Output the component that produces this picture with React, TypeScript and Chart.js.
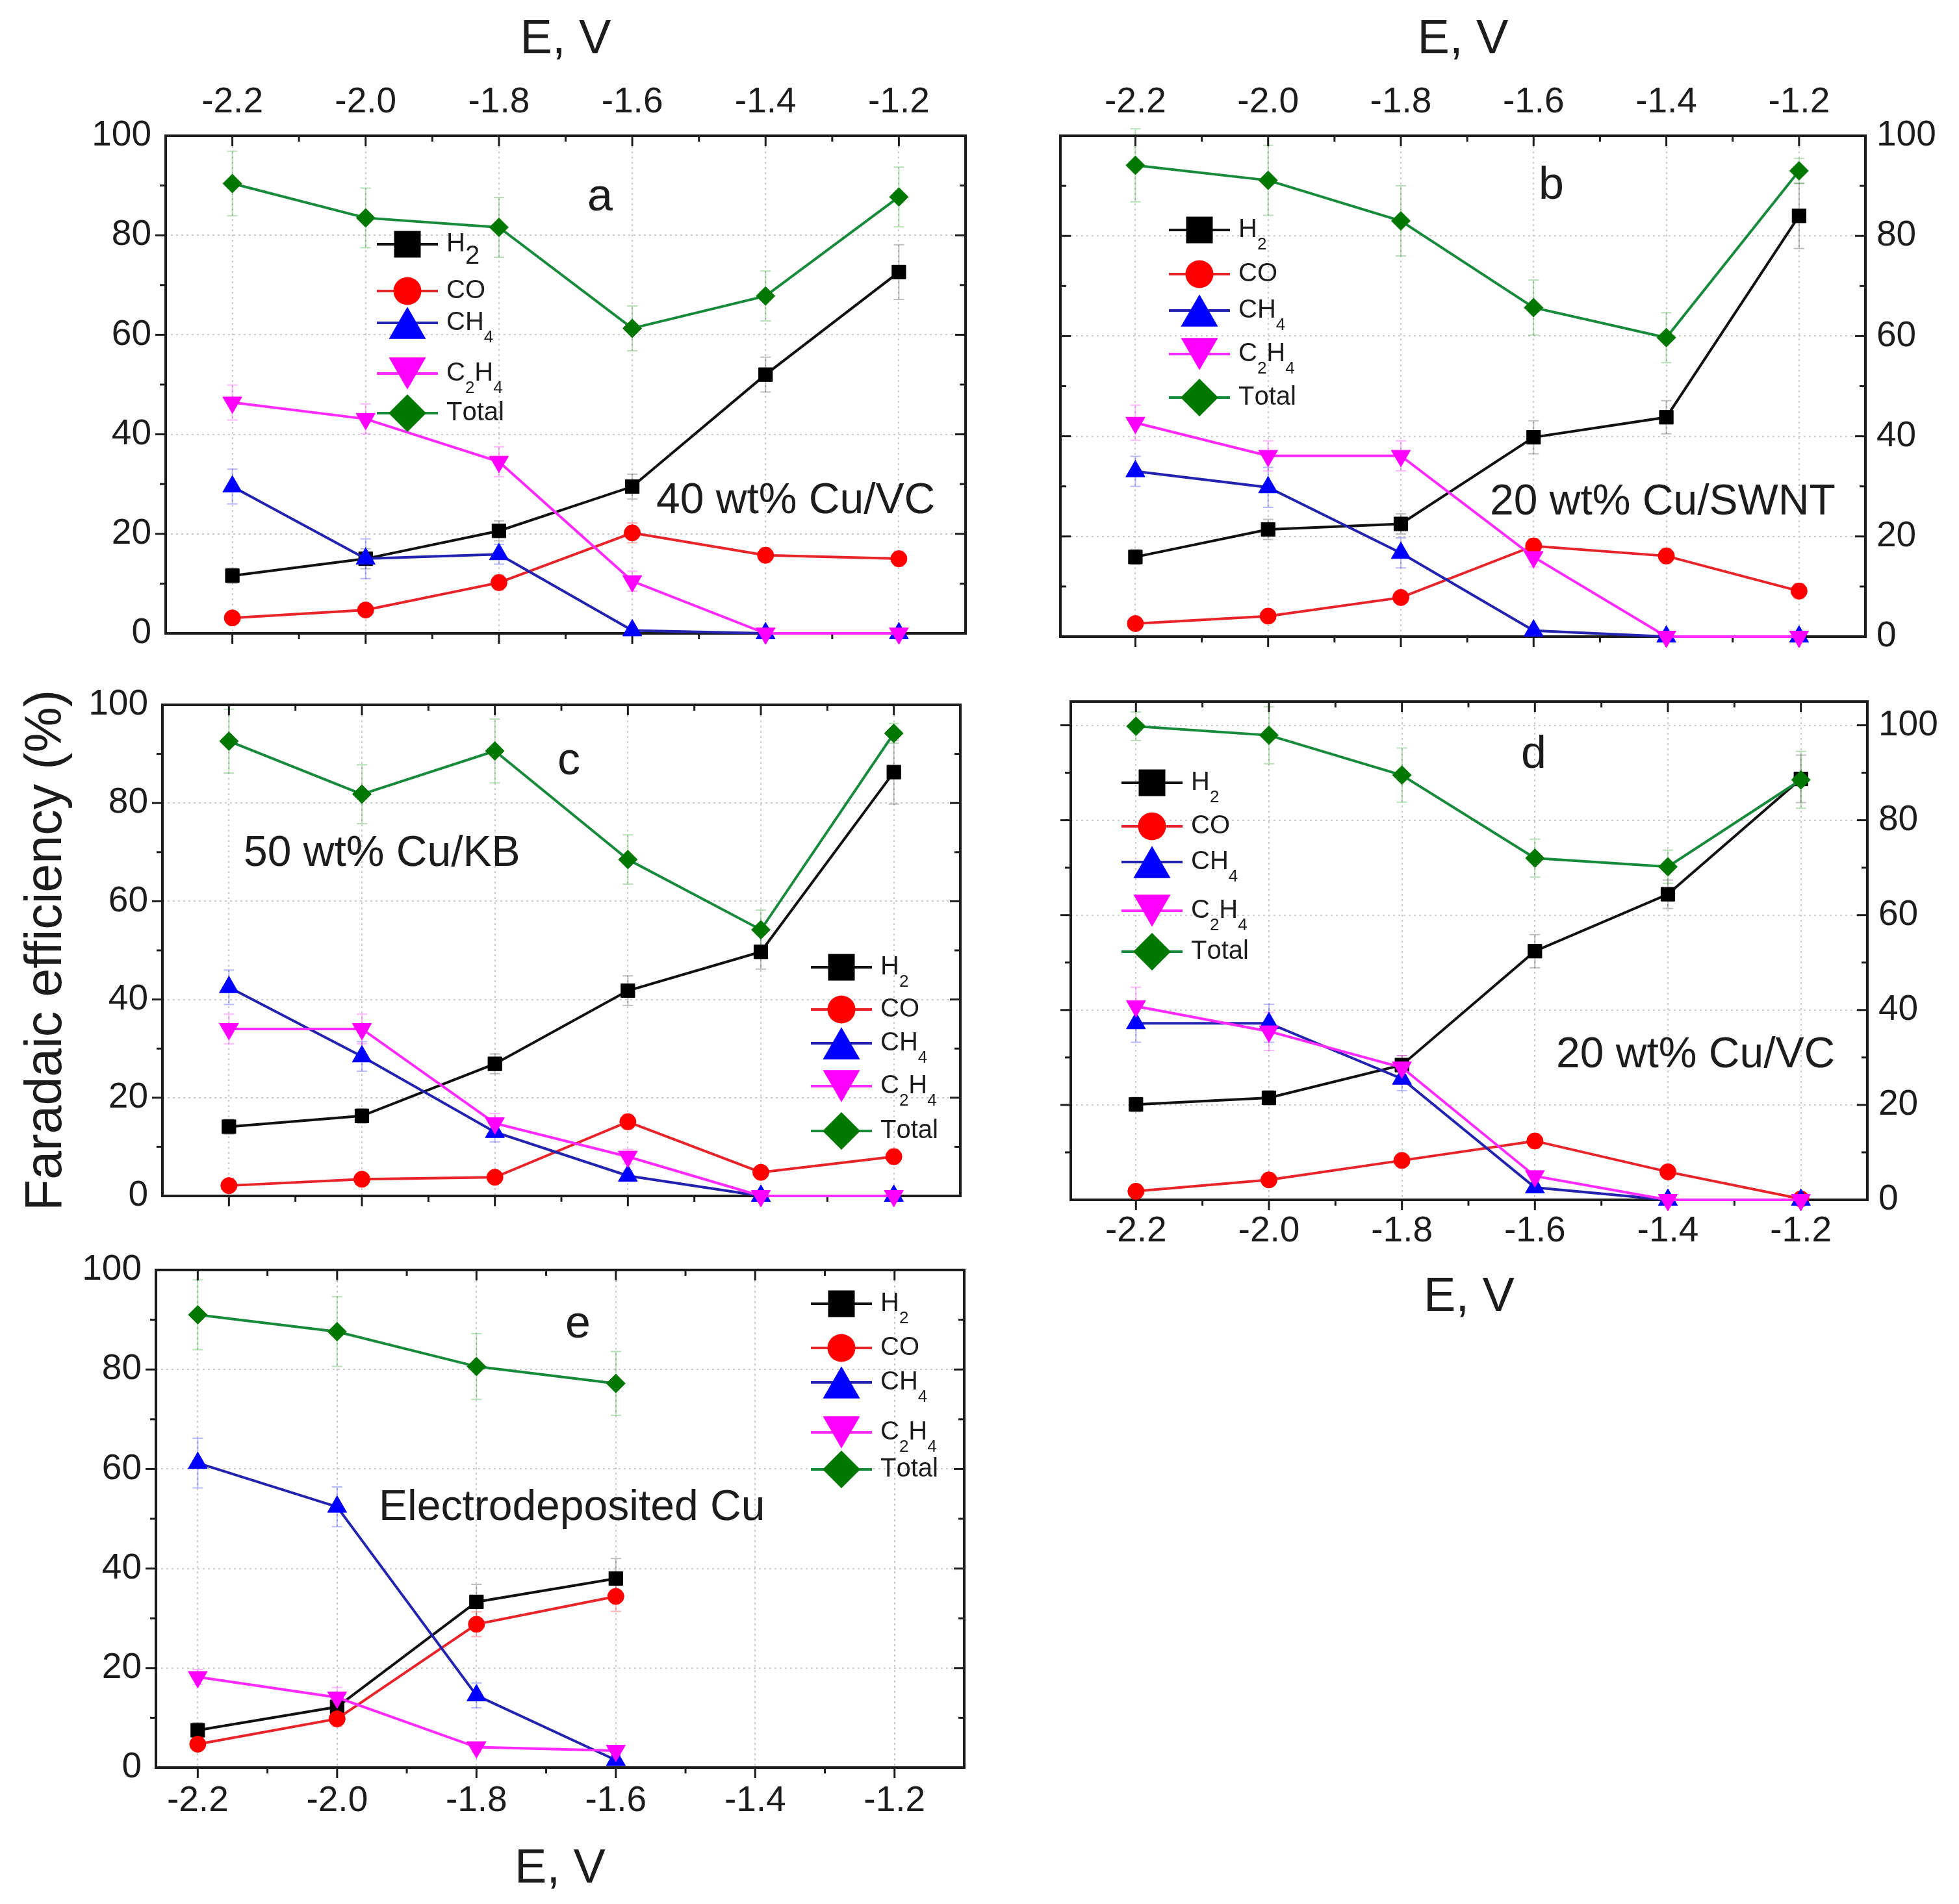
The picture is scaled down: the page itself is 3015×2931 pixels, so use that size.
import { useEffect, useRef } from 'react';
import { Chart, registerables } from 'chart.js';

Chart.register(...registerables);

const FONT = '"Liberation Sans", Arial, Helvetica, sans-serif';
const INK = '#1c1c1c';

// electrode potential, V
const potentials = [-2.2, -2.0, -1.8, -1.6, -1.4, -1.2];
const potentialsE = [-2.2, -2.0, -1.8, -1.6];
const xTickValues = [-2.2, -2.0, -1.8, -1.6, -1.4, -1.2];
const yTickValues = [0, 20, 40, 60, 80, 100];

// series order: H2, CO, CH4, C2H4, Total
const legendLabels = ['H_2', 'CO', 'CH_4', 'C_2H_4', 'Total'];

// a - 40 wt% Cu/VC
const aH2 = [11.6, 15.0, 20.6, 29.5, 52.0, 72.6];
const aCO = [3.1, 4.7, 10.2, 20.2, 15.7, 15.0];
const aCH4 = [29.5, 15.0, 15.9, 0.6, 0, 0];
const aC2H4 = [46.4, 43.1, 34.5, 10.5, 0, 0];
const aTotal = [90.4, 83.5, 81.6, 61.3, 67.8, 87.7];
const aH2Err = [1.5, 2, 2, 2.5, 3.5, 5.5];
const aCOErr = [1, 1, 1.5, 2, 1.5, 1.5];
const aCH4Err = [3.5, 4, 2, 0.5, 0, 0];
const aC2H4Err = [3.5, 3, 3, 2, 0, 0];
const aTotalErr = [6.5, 6, 6, 4.5, 5, 6];

// b - 20 wt% Cu/SWNT
const bH2 = [15.9, 21.4, 22.5, 39.8, 43.8, 84.0];
const bCO = [2.6, 4.1, 7.8, 18.1, 16.1, 9.1];
const bCH4 = [33.0, 29.8, 16.7, 1.2, 0, 0];
const bC2H4 = [42.7, 36.1, 36.1, 15.9, 0, 0];
const bTotal = [94.1, 91.1, 83.0, 65.7, 59.7, 93.0];
const bH2Err = [1.5, 2, 2, 3.3, 3.3, 6.5];
const bCOErr = [1, 1, 1, 1.5, 1.5, 1.5];
const bCH4Err = [3, 4, 3, 0.5, 0, 0];
const bC2H4Err = [3.5, 3, 3, 2, 0, 0];
const bTotalErr = [7.3, 7, 7, 5.5, 5, 2.5];

// c - 50 wt% Cu/KB
const cH2 = [14.1, 16.3, 26.9, 41.8, 49.7, 86.3];
const cCO = [2.1, 3.4, 3.8, 15.1, 4.8, 8.0];
const cCH4 = [42.5, 28.4, 13.0, 4.1, 0, 0];
const cC2H4 = [34.0, 34.0, 14.8, 8.0, 0, 0];
const cTotal = [92.6, 81.8, 90.6, 68.5, 54.2, 94.2];
const cH2Err = [1.5, 1.5, 2, 3, 3.5, 6.5];
const cCOErr = [1, 1, 1, 1.5, 1, 1.5];
const cCH4Err = [3.5, 3, 2, 1, 0, 0];
const cC2H4Err = [3, 3, 2, 1.5, 0, 0];
const cTotalErr = [6.5, 6, 6.5, 5, 4, 2];

// d - 20 wt% Cu/VC
const dH2 = [20.1, 21.5, 28.4, 52.4, 64.4, 88.7];
const dCO = [1.8, 4.2, 8.3, 12.4, 5.9, 0.2];
const dCH4 = [37.2, 37.2, 25.5, 2.6, 0, 0];
const dC2H4 = [40.8, 35.5, 27.9, 5.0, 0, 0];
const dTotal = [99.8, 97.9, 89.5, 72.0, 70.2, 88.5];
const dH2Err = [1.5, 1.5, 2, 3.5, 3, 5];
const dCOErr = [1, 1, 1, 1.5, 1, 0.5];
const dCH4Err = [4, 4, 2.5, 0.5, 0, 0];
const dC2H4Err = [4, 4, 2.5, 1, 0, 0];
const dTotalErr = [3, 6, 5.7, 4, 3.5, 6];

// e - electrodeposited Cu
const eH2 = [7.5, 12.2, 33.3, 38.0];
const eCO = [4.7, 9.8, 28.8, 34.4];
const eCH4 = [61.2, 52.4, 14.5, 1.5];
const eC2H4 = [18.2, 14.1, 4.1, 3.4];
const eTotal = [91.0, 87.6, 80.6, 77.2];
const eH2Err = [1.5, 2, 3.5, 4];
const eCOErr = [1, 1.5, 2.5, 3];
const eCH4Err = [5, 4, 2.5, 1];
const eC2H4Err = [1.5, 2, 1, 1];
const eTotalErr = [7, 7, 6.6, 6.4];

const lineColors = ['#111111', '#e8242b', '#2323b0', '#ff2aff', '#178a3c'];
const pointColors = ['#000000', '#ff0000', '#0000ff', '#ff00ff', '#007800'];
const errColors = ['rgba(0,0,0,0.25)', 'rgba(255,0,0,0.28)', 'rgba(0,0,255,0.28)', 'rgba(255,0,255,0.28)', 'rgba(0,140,0,0.28)'];
const pointStyles = ['rect', 'circle', 'triangle', 'triangle', 'rectRot'];
const pointRotations = [0, 0, 0, 180, 0];
const pointRadii = [15, 12.5, 17, 17, 14.5];
const legendRadii = [29, 21.5, 33, 33, 29];

interface Panel {
    box: number[]; // x, y, w, h on the page
    area: number[]; // left, top, right, bottom of plot frame
    xRange: number[];
    yMax: number;
    x: number[];
    values: number[][];
    errors: number[][];
    xLabel: 'top' | 'bottom' | null;
    xTickPad: number;
    xTitlePad: number;
    yLabel: 'left' | 'right';
    yTitle?: string;
    leftIn: boolean;
    bigH2Sub?: boolean;
    letter: [string, number, number];
    sample: [string, number, number];
    legend: [number, number[]];
}

const panels: Panel[] = [
    {
        box: [0, 0, 1540, 1030], area: [255, 209, 1486, 984], xRange: [-2.3, -1.1], yMax: 100,
        x: potentials, values: [aH2, aCO, aCH4, aC2H4, aTotal],
        errors: [aH2Err, aCOErr, aCH4Err, aC2H4Err, aTotalErr],
        xLabel: 'top', xTickPad: 18, xTitlePad: 17, yLabel: 'left', leftIn: false, bigH2Sub: true,
        letter: ['a', 904, 324], sample: ['40 wt% Cu/VC', 1010, 790],
        legend: [627, [376, 448, 497, 575, 636]],
    },
    {
        box: [1540, 0, 1475, 1030], area: [1632, 209, 2871, 984], xRange: [-2.313, -1.1], yMax: 100,
        x: potentials, values: [bH2, bCO, bCH4, bC2H4, bTotal],
        errors: [bH2Err, bCOErr, bCH4Err, bC2H4Err, bTotalErr],
        xLabel: 'top', xTickPad: 18, xTitlePad: 17, yLabel: 'right', leftIn: true,
        letter: ['b', 2368, 306], sample: ['20 wt% Cu/SWNT', 2293, 792],
        legend: [1846, [354, 422, 478, 545, 612]],
    },
    {
        box: [0, 1030, 1540, 870], area: [250, 1065, 1478, 1841], xRange: [-2.3, -1.1], yMax: 100,
        x: potentials, values: [cH2, cCO, cCH4, cC2H4, cTotal],
        errors: [cH2Err, cCOErr, cCH4Err, cC2H4Err, cTotalErr],
        xLabel: null, xTickPad: 18, xTitlePad: 0, yLabel: 'left', yTitle: 'Faradaic efficiency (%)', leftIn: false,
        letter: ['c', 858, 1192], sample: ['50 wt% Cu/KB', 375, 1333],
        legend: [1295, [1489, 1554, 1606, 1672, 1741]],
    },
    {
        box: [1540, 1030, 1475, 1030], area: [1648, 1076, 2874, 1847], xRange: [-2.298, -1.1], yMax: 105,
        x: potentials, values: [dH2, dCO, dCH4, dC2H4, dTotal],
        errors: [dH2Err, dCOErr, dCH4Err, dC2H4Err, dTotalErr],
        xLabel: 'bottom', xTickPad: 16, xTitlePad: 18, yLabel: 'right', leftIn: false,
        letter: ['d', 2341, 1182], sample: ['20 wt% Cu/VC', 2395, 1643],
        legend: [1773, [1205, 1272, 1327, 1402, 1465]],
    },
    {
        box: [0, 1900, 1540, 1031], area: [240, 1946, 1484, 2721], xRange: [-2.26, -1.1], yMax: 100,
        x: potentialsE, values: [eH2, eCO, eCH4, eC2H4, eTotal],
        errors: [eH2Err, eCOErr, eCH4Err, eC2H4Err, eTotalErr],
        xLabel: 'bottom', xTickPad: 19, xTitlePad: 9, yLabel: 'left', leftIn: false,
        letter: ['e', 870, 2059], sample: ['Electrodeposited Cu', 583, 2340],
        legend: [1295, [2007, 2075, 2128, 2205, 2262]],
    },
];

function drawMarker(ctx: CanvasRenderingContext2D, style: string, rot: number, x: number, y: number, r: number, color: string) {
    ctx.beginPath();
    if (style === 'rect') {
        const s = r * Math.SQRT1_2;
        ctx.rect(x - s, y - s, 2 * s, 2 * s);
    } else if (style === 'circle') {
        ctx.arc(x, y, r, 0, Math.PI * 2);
    } else if (style === 'triangle') {
        let a = (rot * Math.PI) / 180;
        ctx.moveTo(x + Math.sin(a) * r, y - Math.cos(a) * r);
        a += (2 * Math.PI) / 3;
        ctx.lineTo(x + Math.sin(a) * r, y - Math.cos(a) * r);
        a += (2 * Math.PI) / 3;
        ctx.lineTo(x + Math.sin(a) * r, y - Math.cos(a) * r);
    } else {
        ctx.moveTo(x, y - r);
        ctx.lineTo(x + r, y);
        ctx.lineTo(x, y + r);
        ctx.lineTo(x - r, y);
    }
    ctx.closePath();
    ctx.fillStyle = color;
    ctx.fill();
}

// text with "_x" marking a one-character subscript
function drawRich(ctx: CanvasRenderingContext2D, label: string, x: number, y: number, size: number, subScale: number) {
    let cx = x;
    ctx.textAlign = 'left';
    ctx.textBaseline = 'middle';
    ctx.fillStyle = INK;
    const big = subScale > 0.8;
    for (let k = 0; k < label.length; k++) {
        const sub = label[k] === '_';
        if (sub) k++;
        const ch = label[k];
        ctx.font = `${sub ? Math.round(size * subScale) : size}px ${FONT}`;
        ctx.fillText(ch, cx, sub ? y + size * (big ? 0.48 : 0.56) : y);
        cx += ctx.measureText(ch).width;
    }
}

function decorations(p: Panel) {
    const [bx, by] = p.box;
    return {
        id: 'decor',
        beforeDatasetsDraw(chart: any) {
            const { ctx, chartArea: a, scales } = chart;
            const xs = scales.x;
            const ys = scales.y;
            ctx.save();
            // error bars
            p.values.forEach((vals, i) => {
                ctx.strokeStyle = errColors[i];
                ctx.lineWidth = 2;
                vals.forEach((v, j) => {
                    const e = p.errors[i][j];
                    if (!e) return;
                    const px = xs.getPixelForValue(p.x[j]);
                    const top = ys.getPixelForValue(v + e);
                    const bot = ys.getPixelForValue(Math.max(v - e, 0));
                    ctx.beginPath();
                    ctx.moveTo(px, top);
                    ctx.lineTo(px, bot);
                    ctx.moveTo(px - 8, top);
                    ctx.lineTo(px + 8, top);
                    ctx.moveTo(px - 8, bot);
                    ctx.lineTo(px + 8, bot);
                    ctx.stroke();
                });
            });
            // frame
            ctx.strokeStyle = INK;
            ctx.lineWidth = 4;
            ctx.strokeRect(a.left, a.top, a.right - a.left, a.bottom - a.top);
            // major and minor ticks
            const [xmin, xmax] = p.xRange;
            const xMajor = xTickValues.filter((v) => v > xmin && v < xmax);
            const xMinor = xMajor.slice(1).map((v, k) => (v + xMajor[k]) / 2);
            const yMajor = yTickValues.filter((v) => v > 0 && v < p.yMax);
            const yMinor = yTickValues.slice(1).map((v, k) => (v + yTickValues[k]) / 2);
            ctx.lineWidth = 3;
            const tick = (x1: number, y1: number, x2: number, y2: number) => {
                ctx.beginPath();
                ctx.moveTo(x1, y1);
                ctx.lineTo(x2, y2);
                ctx.stroke();
            };
            const xTick = (v: number, len: number) => {
                const px = xs.getPixelForValue(v);
                tick(px, a.bottom, px, a.bottom + len); // bottom: outward
                tick(px, a.top, px, a.top + len); // top: inward
            };
            const yTick = (v: number, len: number) => {
                const py = ys.getPixelForValue(v);
                tick(a.left, py, a.left + (p.leftIn ? len : -len), py);
                tick(a.right, py, a.right - len, py); // right: inward
            };
            xMajor.forEach((v) => xTick(v, 16));
            xMinor.forEach((v) => xTick(v, 9));
            yMajor.forEach((v) => yTick(v, 16));
            yMinor.forEach((v) => yTick(v, 9));
            ctx.restore();
        },
        afterDatasetsDraw(chart: any) {
            const { ctx } = chart;
            ctx.save();
            // inset legend
            const [lx, lys] = p.legend;
            lys.forEach((ly, i) => {
                const x = lx - bx;
                const y = ly - by;
                ctx.strokeStyle = lineColors[i];
                ctx.lineWidth = 4;
                ctx.beginPath();
                ctx.moveTo(x - 47, y);
                ctx.lineTo(x + 47, y);
                ctx.stroke();
                const r = legendRadii[i];
                let my = y;
                if (pointStyles[i] === 'triangle') my += pointRotations[i] ? -r / 4 : r / 4;
                drawMarker(ctx, pointStyles[i], pointRotations[i], x, my, r, pointColors[i]);
                const subScale = i === 0 && p.bigH2Sub ? 1 : 0.66;
                drawRich(ctx, legendLabels[i], x + 60, y, 40, subScale);
            });
            // panel letter and catalyst name
            ctx.fillStyle = INK;
            ctx.textAlign = 'left';
            ctx.textBaseline = 'alphabetic';
            ctx.font = `70px ${FONT}`;
            ctx.fillText(p.letter[0], p.letter[1] - bx, p.letter[2] - by);
            ctx.font = `66px ${FONT}`;
            ctx.fillText(p.sample[0], p.sample[1] - bx, p.sample[2] - by);
            ctx.restore();
        },
    };
}

function buildConfig(p: Panel): any {
    const [bx, by, bw, bh] = p.box;
    const [al, at, ar, ab] = p.area;
    const sizes: Record<string, number> = {
        left: al - bx,
        right: bx + bw - ar,
        top: at - by,
        bottom: by + bh - ab,
    };
    const tickFont = { family: FONT, size: 55 };
    const setX = (s: any) => { s.ticks = xTickValues.map((value) => ({ value })); };
    const setY = (s: any) => { s.ticks = yTickValues.map((value) => ({ value })); };

    const xAxis = (position: 'top' | 'bottom', main: boolean) => ({
        type: 'linear',
        position,
        min: p.xRange[0],
        max: p.xRange[1],
        afterBuildTicks: setX,
        afterFit: (s: any) => { s.height = sizes[position]; },
        grid: { display: main, color: '#cbcbcb', lineWidth: 2, drawTicks: false },
        border: { display: false, dash: [3, 5] },
        ticks: {
            display: p.xLabel === position,
            font: tickFont,
            color: INK,
            padding: p.xTickPad,
            autoSkip: false,
            maxRotation: 0,
            minRotation: 0,
            callback: (v: any) => Number(v).toFixed(1),
        },
        title: {
            display: p.xLabel === position,
            text: 'E, V',
            font: { family: FONT, size: 74 },
            color: INK,
            padding: { top: p.xTitlePad, bottom: p.xTitlePad },
        },
    });

    const yAxis = (position: 'left' | 'right', main: boolean) => ({
        type: 'linear',
        position,
        min: 0,
        max: p.yMax,
        afterBuildTicks: setY,
        afterFit: (s: any) => { s.width = sizes[position]; },
        grid: { display: main, color: '#cbcbcb', lineWidth: 2, drawTicks: false },
        border: { display: false, dash: [3, 5] },
        ticks: {
            display: p.yLabel === position,
            font: tickFont,
            color: INK,
            padding: position === 'left' ? 22 : 17,
            autoSkip: false,
            callback: (v: any) => String(v),
        },
        title: {
            display: position === 'left' && !!p.yTitle,
            text: p.yTitle || '',
            font: { family: FONT, size: 79 },
            color: INK,
            padding: { top: 25, bottom: 0 },
        },
    });

    return {
        type: 'line',
        data: {
            datasets: p.values.map((vals, i) => ({
                label: legendLabels[i],
                data: vals.map((v, j) => ({ x: p.x[j], y: v })),
                borderColor: lineColors[i],
                borderWidth: 4,
                tension: 0,
                pointStyle: pointStyles[i],
                pointRotation: pointRotations[i],
                pointRadius: pointRadii[i],
                pointBackgroundColor: pointColors[i],
                pointBorderColor: pointColors[i],
                pointBorderWidth: 1,
                clip: false,
                order: 4 - i,
            })),
        },
        options: {
            responsive: false,
            animation: false,
            events: [],
            layout: { padding: 0 },
            scales: {
                x: xAxis('bottom', true),
                x2: xAxis('top', false),
                y: yAxis('left', true),
                y2: yAxis('right', false),
            },
            plugins: {
                legend: { display: false },
                tooltip: { enabled: false },
            },
        },
        plugins: [decorations(p)],
    };
}

function PanelChart({ panel }: { panel: Panel }) {
    const canvasRef = useRef<HTMLCanvasElement>(null);

    useEffect(() => {
        if (!canvasRef.current) return;
        const chart = new Chart(canvasRef.current, buildConfig(panel));
        return () => {
            chart.destroy();
        };
    }, [panel]);

    const [bx, by, bw, bh] = panel.box;
    return (
        <canvas
            ref={canvasRef}
            width={bw}
            height={bh}
            style={{ position: 'absolute', left: bx, top: by, width: bw, height: bh }}
        />
    );
}

export default function App() {
    return (
        <div style={{ position: 'absolute', left: 0, top: 0, width: 3015, height: 2931, background: '#ffffff' }}>
            {panels.map((p, i) => (
                <PanelChart key={i} panel={p} />
            ))}
        </div>
    );
}
